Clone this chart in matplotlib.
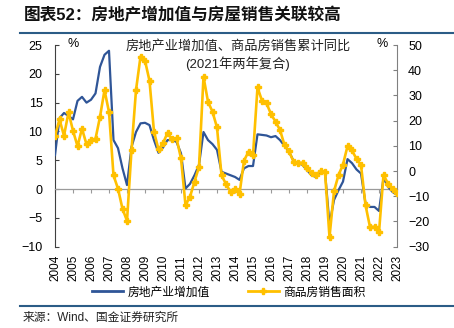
import matplotlib
matplotlib.use("Agg")
import matplotlib.pyplot as plt
from matplotlib.lines import Line2D
import numpy as np

plt.rcParams['font.family'] = ['Liberation Sans', 'Noto Sans CJK SC', 'DejaVu Sans']

# Quarterly points, 2004Q4 .. 2023Q4 (year labels sit on each Q4 point)
years = [str(y) for y in range(2004, 2024)]

value_added = [5.9, 12.3, 13.2, 12.7, 12.1, 15.3, 16.0, 15.0, 15.5, 16.6,
               21.2, 23.3, 24.0, 8.5, 7.1, 3.6, 0.7, 7.3, 9.9, 11.4,
               11.5, 11.1, 8.5, 6.3, 7.2, 8.5, 8.5, 8.2, 6.2, 0.1,
               0.9, 2.4, 4.2, 9.9, 8.5, 7.8, 6.8, 3.0, 2.7, 2.4,
               2.1, 1.6, 3.6, 4.0, 4.0, 9.5, 9.4, 9.3, 9.0, 9.2,
               8.5, 7.5, 6.5, 4.9, 4.5, 4.2, 3.3, 2.4, 2.1, 3.0,
               3.0, -6.1, -1.9, -0.2, 1.3, 5.2, 4.5, 3.4, 2.7, -2.5,
               -3.1, -3.1, -3.8, 1.9, 0.4, -0.5, -1.0]

sales_area = [13.9, 20.5, 14.0, 23.3, 16.0, 9.9, 16.8, 10.6, 12.3, 12.8,
              21.5, 32.1, 23.4, -1.7, -7.0, -15.0, -19.7, 8.3, 32.1, 45.4,
              43.8, 35.8, 15.6, 8.6, 11.0, 15.2, 12.6, 13.0, 5.0, -13.5,
              -10.2, -4.2, 1.7, 37.4, 27.5, 23.5, 17.3, -1.6, -5.2, -8.2,
              -7.3, -9.1, 4.1, 7.7, 6.3, 33.2, 27.9, 26.9, 22.6, 19.6,
              16.3, 10.3, 7.9, 3.7, 3.3, 3.3, 1.3, -0.9, -1.6, 0.1,
              -0.3, -26.2, -8.0, -1.6, 2.6, 9.9, 8.2, 4.8, 2.4, -13.5,
              -22.2, -22.1, -24.3, -1.5, -5.0, -7.0, -8.6]

label_va = '房地产业增加值'
label_sa = '商品房销售面积'
title = '图表52：房地产增加值与房屋销售关联较高'
note1 = '房地产业增加值、商品房销售累计同比'
note2 = '(2021年两年复合)'
source = '来源：Wind、国金证券研究所'

BLUE = '#2F5597'
YELLOW = '#FFC000'
RULE = '#2B5C86'

W, H = 454, 328
fig = plt.figure(figsize=(W / 100, H / 100), dpi=100)
L, R, T, B = 55, 397, 45, 246.7
ax = fig.add_axes([L / W, 1 - B / H, (R - L) / W, (B - T) / H])
ax2 = ax.twinx()

x = np.arange(len(value_added))
ax.plot(x, value_added, color=BLUE, lw=1.6, zorder=3)
ax2.plot(x, sales_area, color=YELLOW, lw=1.9, marker='P', ms=5.0,
         mec=YELLOW, mfc=YELLOW, zorder=4)

ax.set_xlim(0, len(x) - 1)
ax.set_ylim(-10, 25)
ax2.set_ylim(-30, 50)
ax.set_yticks(np.arange(-10, 26, 5))
ax2.set_yticks(np.arange(-30, 51, 10))

# zero line as the bottom spine with year ticks
ticks = np.arange(0, len(x), 4)
ax.spines['bottom'].set_position(('data', 0))
ax.spines['bottom'].set_color('#9a9a9a')
ax.spines['bottom'].set_linewidth(0.9)
ax.set_xticks(ticks)
ax.tick_params(axis='x', direction='out', length=3, width=0.8,
               color='#9a9a9a', labelbottom=False)
sec = ax.secondary_xaxis('bottom')
sec.set_xticks(ticks)
sec.set_xticklabels(years[:len(ticks)], rotation=90, fontsize=8.5)
sec.tick_params(length=0, pad=6)
sec.spines['bottom'].set_visible(False)

for a in (ax, ax2):
    a.spines['top'].set_visible(False)
ax2.spines['bottom'].set_visible(False)
ax2.spines['left'].set_visible(False)
ax.spines['right'].set_visible(False)
ax.spines['left'].set_color('#404040')
ax2.spines['right'].set_color('#808080')
ax.tick_params(axis='y', direction='in', length=3, labelsize=9, pad=9,
               color='#404040')
ax2.tick_params(axis='y', direction='in', length=3, labelsize=9, pad=8,
                color='#808080')

fig.text(73 / W, 1 - 44 / H, '%', fontsize=9, ha='center', va='center')
fig.text(382 / W, 1 - 44 / H, '%', fontsize=9, ha='center', va='center')
fig.text(238.5 / W, 1 - 46 / H, note1, fontsize=9.5, ha='center', va='center',
         color='#222222')
fig.text(237.5 / W, 1 - 64 / H, note2, fontsize=9.5, ha='center', va='center',
         color='#222222')

fig.text(24 / W, 1 - 15 / H, title, fontsize=12, fontweight='bold',
         ha='left', va='center', color='#111111')
fig.add_artist(Line2D([20 / W, 1.0], [1 - 33 / H, 1 - 33 / H],
                      color=RULE, lw=1.5, transform=fig.transFigure))
fig.add_artist(Line2D([20 / W, 1.0], [1 - 306 / H, 1 - 306 / H],
                      color=RULE, lw=1.5, transform=fig.transFigure))
fig.text(23 / W, 1 - 318 / H, source, fontsize=8.5, ha='left', va='center',
         color='#222222')

h1 = Line2D([], [], color=BLUE, lw=2.0)
h2 = Line2D([], [], color=YELLOW, lw=2.0, marker='P', ms=4.0,
            markevery=[1])
leg = fig.legend([h1, h2], [label_va, label_sa], loc='center',
                 bbox_to_anchor=(229 / W, 1 - 292.5 / H), ncol=2, frameon=False,
                 fontsize=8.5, handlelength=2.6, handletextpad=0.4,
                 columnspacing=3.2, borderaxespad=0)

fig.savefig('out.png', dpi=100)
